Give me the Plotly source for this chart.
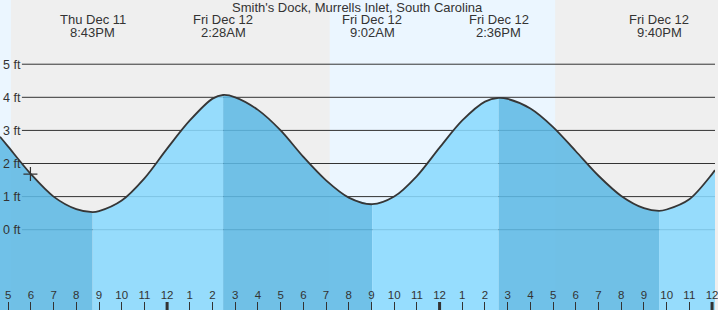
import plotly.graph_objects as go

# ---------------- data (hours since Thu Dec 11 00:00, heights in ft) ----------------
title_text = "Smith's Dock, Murrells Inlet, South Carolina"

tide_hours = [20.717, 26.467, 33.033, 38.6, 45.667]
tide_heights = [0.53, 4.07, 0.77, 3.98, 0.57]
tide_dates = ["Thu Dec 11", "Fri Dec 12", "Fri Dec 12", "Fri Dec 12", "Fri Dec 12"]
tide_clock = ["8:43PM", "2:28AM", "9:02AM", "2:36PM", "9:40PM"]

# curve samples, roughly hourly (extremes included)
curve_t = [16.64, 17, 18, 19, 20, 20.717, 21, 22, 23, 24, 25, 26, 26.467,
           27, 28, 29, 30, 31, 32, 33.033, 34, 35, 36, 37, 38, 38.6,
           39, 40, 41, 42, 43, 44, 45, 45.667, 46, 47, 48, 48.13]
curve_h = [2.81, 2.51, 1.68, 1.0, 0.62, 0.53, 0.56, 0.88, 1.55, 2.45, 3.3, 3.96, 4.07,
           4.0, 3.62, 3.0, 2.2, 1.49, 0.97, 0.77, 1.0, 1.62, 2.48, 3.3, 3.87, 3.98,
           3.95, 3.66, 3.1, 2.37, 1.63, 1.02, 0.65, 0.57, 0.61, 0.92, 1.68, 1.8]

now_t = 17.98
now_h = 1.68

day_start = [7.1, 31.16]
day_end = [17.12, 41.09]

ft_levels = [0, 1, 2, 3, 4, 5]
ft_labels = ["0 ft", "1 ft", "2 ft", "3 ft", "4 ft", "5 ft"]

hour_ticks = [17, 18, 19, 20, 21, 22, 23, 24, 25, 26, 27, 28, 29, 30, 31, 32,
              33, 34, 35, 36, 37, 38, 39, 40, 41, 42, 43, 44, 45, 46, 47, 48]
hour_labels = ["5", "6", "7", "8", "9", "10", "11", "12", "1", "2", "3", "4",
               "5", "6", "7", "8", "9", "10", "11", "12", "1", "2", "3", "4",
               "5", "6", "7", "8", "9", "10", "11", "12"]
midday_ticks = [24, 36, 48]

# ---------------- styling ----------------
X_RANGE = [16.64, 48.13]
Y_RANGE = [-2.426, 6.94]
FONT = "Liberation Sans, Arial, sans-serif"
TXT = "#333333"
NIGHT = "#efefef"
DAY = "#ebf6ff"
RISING = "rgba(137,217,254,0.87)"
FALLING = "rgba(93,185,229,0.87)"
BASE = Y_RANGE[0] - 1
SMOOTH = 0.9

fig = go.Figure()

# filled segments between consecutive extremes
breaks = [curve_t[0]] + tide_hours + [curve_t[-1]]
for a, b in zip(breaks[:-1], breaks[1:]):
    idx = [i for i, t in enumerate(curve_t) if a <= t <= b]
    xs = [curve_t[i] for i in idx]
    ys = [curve_h[i] for i in idx]
    color = FALLING if ys[-1] < ys[0] else RISING
    fig.add_trace(go.Scatter(x=[xs[0], xs[-1]], y=[BASE, BASE], mode="lines",
                             line=dict(width=0), hoverinfo="skip", showlegend=False))
    fig.add_trace(go.Scatter(x=xs, y=ys, mode="lines", fill="tonexty",
                             fillcolor=color, line=dict(width=0, shape="spline", smoothing=SMOOTH),
                             hoverinfo="skip", showlegend=False))

# outline
fig.add_trace(go.Scatter(x=curve_t, y=curve_h, mode="lines",
                         line=dict(color="#363636", width=1.8, shape="spline", smoothing=SMOOTH),
                         showlegend=False))
# current time marker
fig.add_trace(go.Scatter(x=[now_t], y=[now_h], mode="markers",
                         marker=dict(symbol="cross-thin", size=10,
                                     line=dict(color="#333333", width=1.2)),
                         showlegend=False))

shapes = []
for s, e in zip(day_start, day_end):
    shapes.append(dict(type="rect", xref="x", yref="paper", x0=s, x1=e, y0=0, y1=1,
                       fillcolor=DAY, line=dict(width=0), layer="below"))
for lv in ft_levels:
    shapes.append(dict(type="line", xref="paper", yref="y", x0=22 / 718, x1=1,
                       y0=lv, y1=lv, line=dict(color="#333333", width=1), layer="between"))
for t in midday_ticks:
    shapes.append(dict(type="line", xref="x", yref="paper", x0=t, x1=t,
                       y0=0, y1=8 / 310, line=dict(color="#333333", width=3), layer="above"))

annotations = [dict(text=title_text, xref="paper", yref="paper", x=0.5, y=1 - 7.5 / 310,
                    xanchor="center", yanchor="middle", showarrow=False,
                    font=dict(family=FONT, size=13, color=TXT))]
for t, d, c in zip(tide_hours, tide_dates, tide_clock):
    annotations.append(dict(text=d, xref="x", yref="paper", x=t, y=1 - 20 / 310,
                            xanchor="center", yanchor="middle", showarrow=False,
                            font=dict(family=FONT, size=13, color=TXT)))
    annotations.append(dict(text=c, xref="x", yref="paper", x=t, y=1 - 32.5 / 310,
                            xanchor="center", yanchor="middle", showarrow=False,
                            font=dict(family=FONT, size=13, color=TXT)))

fig.update_layout(
    width=718, height=310, margin=dict(l=0, r=0, t=0, b=0),
    paper_bgcolor=NIGHT, plot_bgcolor=NIGHT,
    shapes=shapes, annotations=annotations, showlegend=False,
    xaxis=dict(range=X_RANGE, showgrid=False, zeroline=False, showline=False,
               tickmode="array", tickvals=hour_ticks, ticktext=hour_labels,
               ticks="inside", ticklen=8, tickwidth=1, tickcolor="#333333",
               ticklabelposition="inside", ticklabeloverflow="allow",
               tickfont=dict(family=FONT, size=11.5, color=TXT),
               fixedrange=True),
    yaxis=dict(range=Y_RANGE, showgrid=False, zeroline=False, showline=False,
               tickmode="array", tickvals=ft_levels, ticktext=ft_labels,
               ticks="", ticklabelposition="inside", ticklabeloverflow="allow",
               tickfont=dict(family=FONT, size=12.5, color=TXT), fixedrange=True),
)

fig.write_html("out.html", config={"displayModeBar": False})
